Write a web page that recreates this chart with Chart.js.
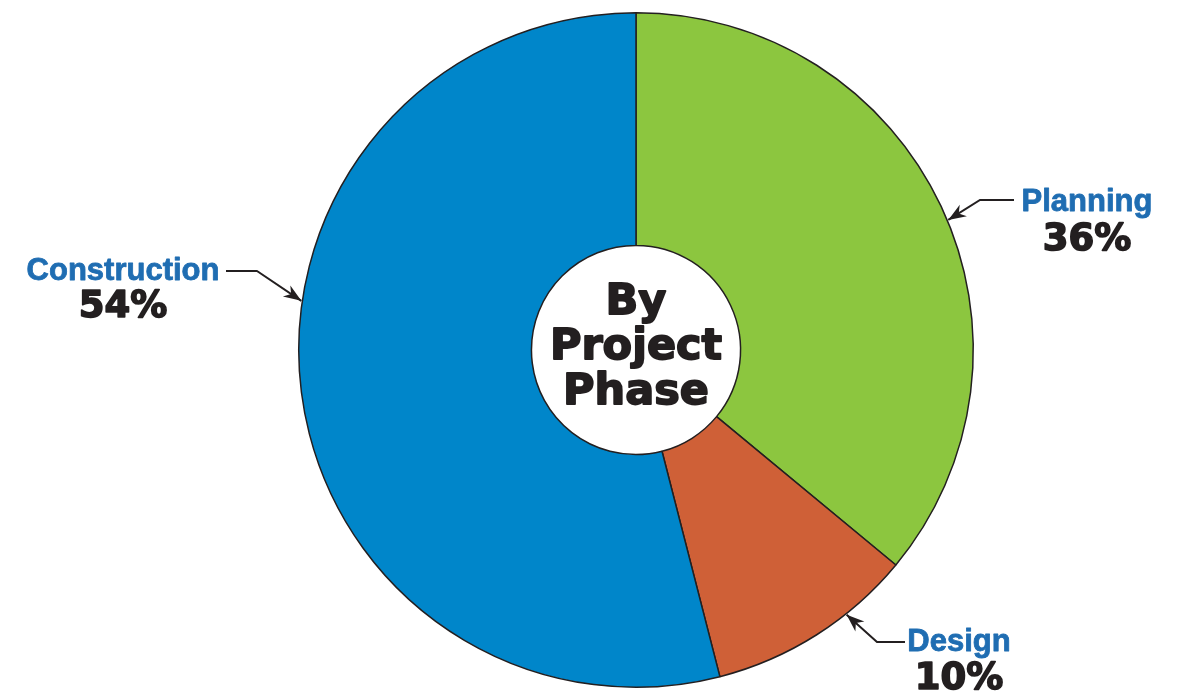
<!DOCTYPE html>
<html lang="en">
<head>
    <meta charset="UTF-8">
    <title>By Project Phase</title>
    <script src="https://cdn.jsdelivr.net/npm/chart.js"></script>
    <style>
        body { margin: 0; background: #fff; }
        canvas { display: block; }
    </style>
</head>
<body>
    <canvas id="phaseChart" width="1182" height="691"></canvas>
    <script>
        // data
        const phases = ['Planning', 'Design', 'Construction'];
        const shares = [36, 10, 54];
        const centerTitle = ['By', 'Project', 'Phase'];

        const sliceColors = ['#8cc63f', '#cf6037', '#0086ca'];

        // where each callout sits: frac = point along the arc the arrow hits
        const callouts = [
            { frac: 0.52, elbow: [980, 200], lineEnd: 1014, textX: 1087, nameY: 211, pctY: 250 },
            { frac: 0.33, elbow: [877, 642], lineEnd: 905, textX: 959, nameY: 651, pctY: 689 },
            { frac: 0.58, elbow: [257, 271], lineEnd: 226, textX: 123, nameY: 280, pctY: 317 }
        ];

        // heavy text: fill plus a thin stroke of the same colour
        function heavyText(ctx, str, x, y, color, w) {
            ctx.fillStyle = color;
            ctx.strokeStyle = color;
            ctx.lineWidth = w;
            ctx.lineJoin = 'round';
            ctx.strokeText(str, x, y);
            ctx.fillText(str, x, y);
        }

        const calloutPlugin = {
            id: 'callouts',
            afterDatasetsDraw(chart) {
                const ctx = chart.ctx;
                const arcs = chart.getDatasetMeta(0).data;
                ctx.save();
                arcs.forEach((arc, i) => {
                    const c = callouts[i];
                    const a = arc.startAngle + c.frac * (arc.endAngle - arc.startAngle);
                    const r = arc.outerRadius + 1;
                    const tx = arc.x + Math.cos(a) * r;
                    const ty = arc.y + Math.sin(a) * r;

                    // leader line
                    ctx.strokeStyle = '#231f20';
                    ctx.lineWidth = 2;
                    ctx.beginPath();
                    ctx.moveTo(c.lineEnd, c.elbow[1]);
                    ctx.lineTo(c.elbow[0], c.elbow[1]);
                    ctx.lineTo(tx, ty);
                    ctx.stroke();

                    // arrow head
                    const ang = Math.atan2(ty - c.elbow[1], tx - c.elbow[0]);
                    const len = 19, half = 0.36;
                    ctx.fillStyle = '#231f20';
                    ctx.beginPath();
                    ctx.moveTo(tx, ty);
                    ctx.lineTo(tx - len * Math.cos(ang - half), ty - len * Math.sin(ang - half));
                    ctx.lineTo(tx - len * 0.65 * Math.cos(ang), ty - len * 0.65 * Math.sin(ang));
                    ctx.lineTo(tx - len * Math.cos(ang + half), ty - len * Math.sin(ang + half));
                    ctx.closePath();
                    ctx.fill();

                    // texts
                    ctx.textAlign = 'center';
                    ctx.textBaseline = 'alphabetic';
                    ctx.font = 'bold 31px "Liberation Sans", Arial, sans-serif';
                    heavyText(ctx, phases[i], c.textX, c.nameY, '#1f6db2', 0.8);
                    ctx.font = 'bold 37px "DejaVu Sans", sans-serif';
                    heavyText(ctx, shares[i] + '%', c.textX, c.pctY, '#231f20', 1.6);
                });

                // centre title
                const cx = arcs[0].x, cy = arcs[0].y;
                ctx.textAlign = 'center';
                ctx.font = 'bold 43px "DejaVu Sans", sans-serif';
                centerTitle.forEach((line, k) => {
                    heavyText(ctx, line, cx, cy - 36 + k * 45, '#231f20', 1.8);
                });
                ctx.restore();
            }
        };

        const ctx = document.getElementById('phaseChart').getContext('2d');
        const chart = new Chart(ctx, {
            type: 'doughnut',
            data: {
                labels: phases,
                datasets: [{
                    data: shares,
                    backgroundColor: sliceColors,
                    borderColor: '#231f20',
                    borderWidth: 1.5,
                    hoverOffset: 0
                }]
            },
            options: {
                responsive: false,
                animation: false,
                cutout: '31%',
                layout: {
                    padding: { left: 298, top: 12, right: 208, bottom: 3 }
                },
                plugins: {
                    legend: { display: false },
                    tooltip: { enabled: false }
                },
                events: []
            },
            plugins: [calloutPlugin]
        });
    </script>
</body>
</html>
